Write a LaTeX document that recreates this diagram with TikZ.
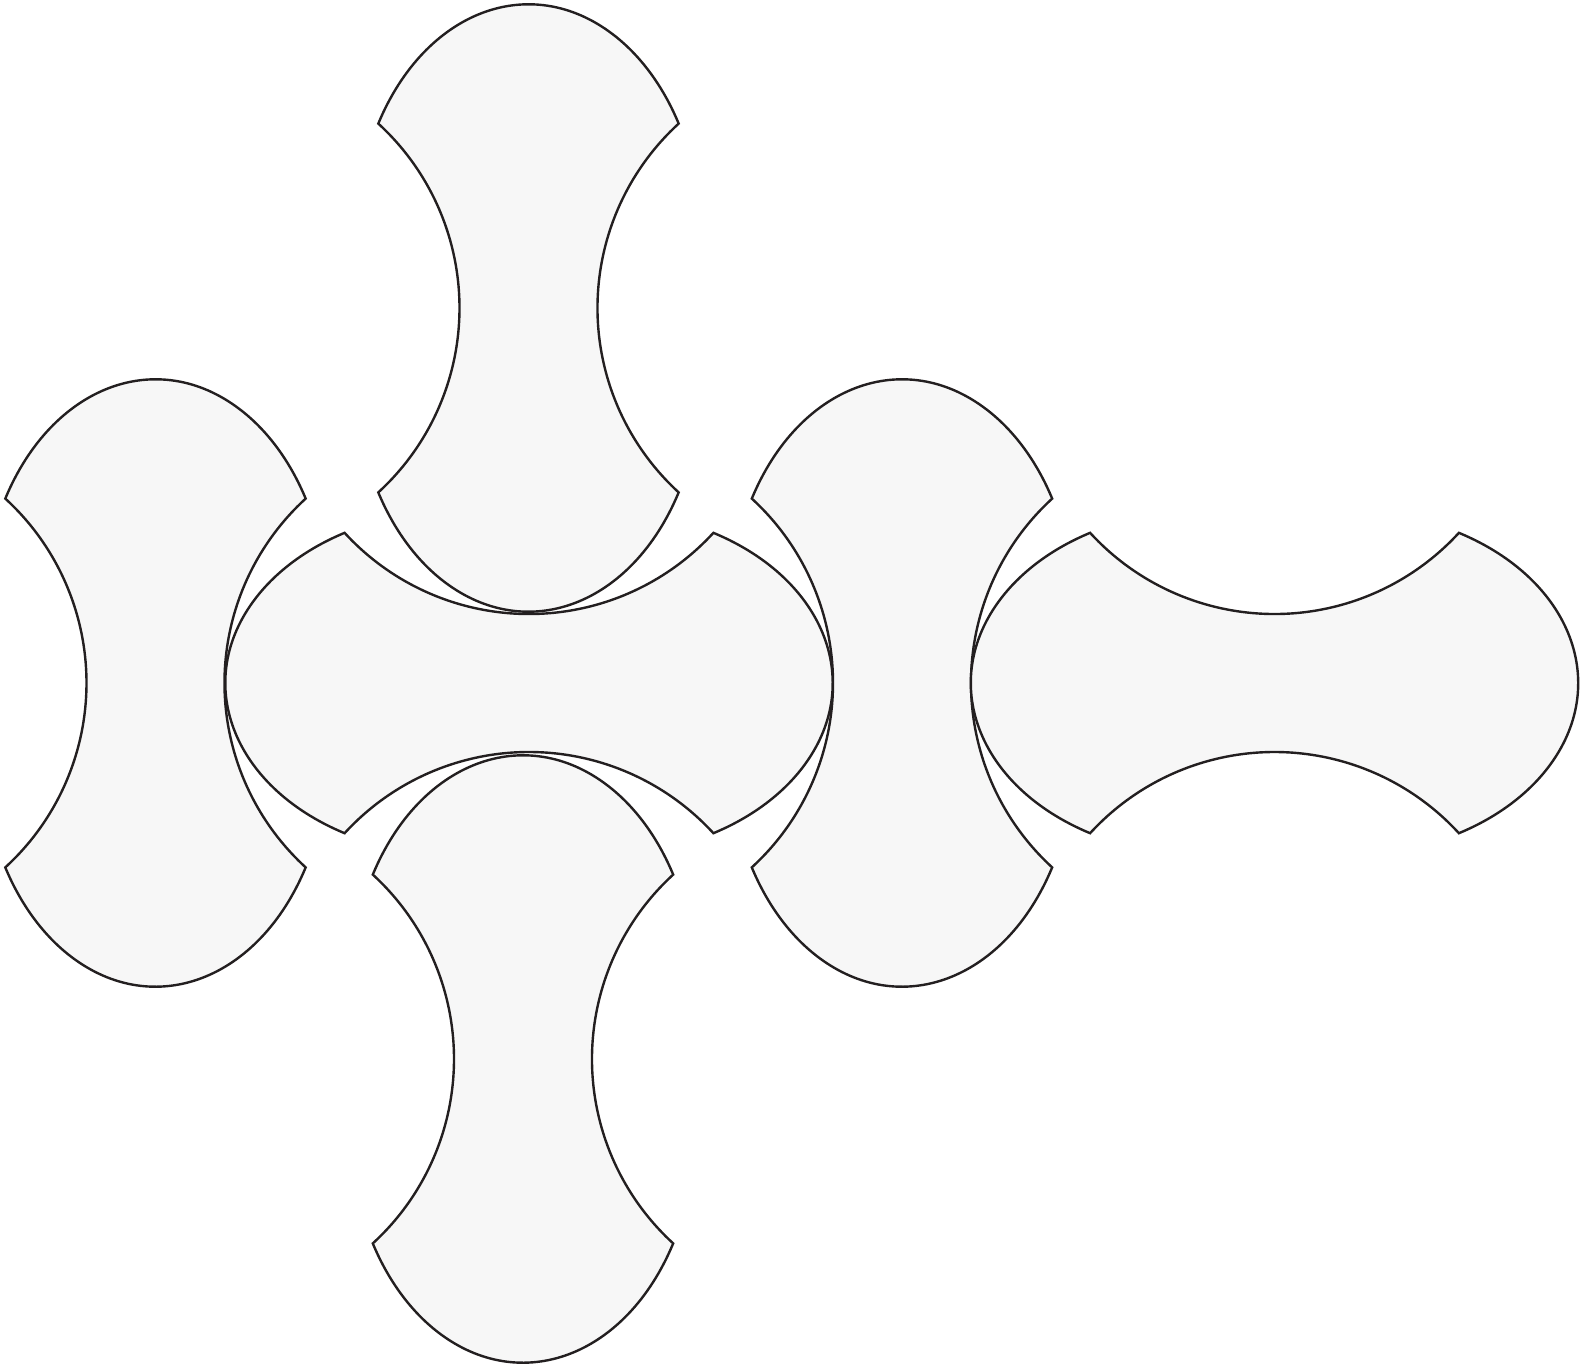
\documentclass[tikz,border=0pt]{standalone}
\usepackage{tikz}

\definecolor{tilefill}{HTML}{F7F7F7}
\definecolor{tileline}{HTML}{231F20}

\tikzset{
  tile/.style={fill=tilefill, draw=tileline, line width=2.4pt, line join=miter},
  % one bone shaped tile, standing upright, centred on the origin
  % (y runs downwards: elliptic ends, hollow sides r=250)
  bone/.pic={
    \path[tile] (-150.2,-184.4)
      arc[start angle=209.46, end angle=330.54, x radius=172.5, y radius=234.7]
      arc[start angle=227.53, end angle=132.47, radius=250]
      arc[start angle=29.46, end angle=150.54, x radius=172.5, y radius=234.7]
      arc[start angle=47.53, end angle=-47.53, radius=250] -- cycle;
  }
}

\begin{document}
\begin{tikzpicture}[x=1pt, y=-1pt]
    \useasboundingbox (0,0) rectangle (1580,1367);

    % upright tiles
    \pic (left)   at (155.5,683) {bone};
    \pic (right)  at (902,683)   {bone};
    \pic (top)    at (528.5,308) {bone};
    \pic (bottom) at (523,1059)  {bone};

    % lying tiles
    \pic[rotate=90] (middle) at (529,683)    {bone};
    \pic[rotate=90] (end)    at (1274.5,683) {bone};
\end{tikzpicture}
\end{document}
